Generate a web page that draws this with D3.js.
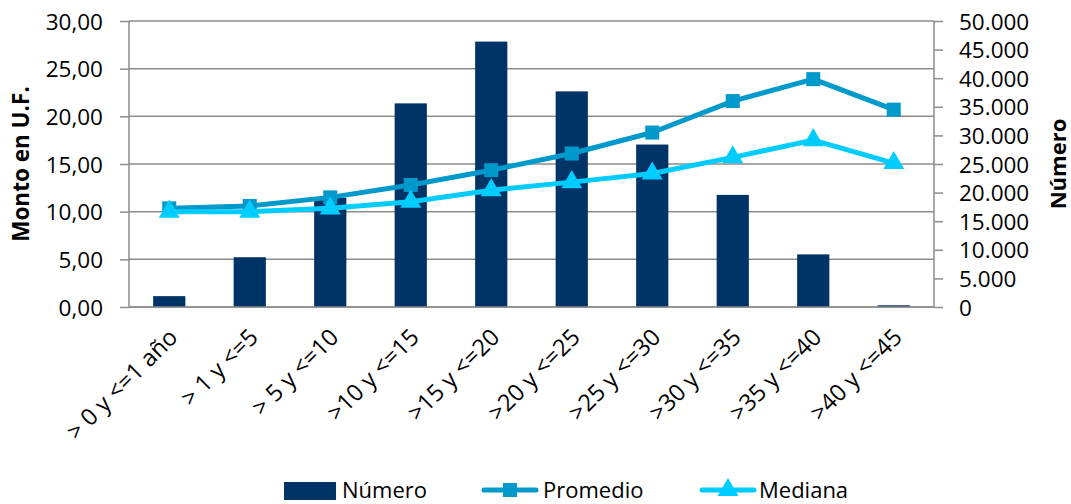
<!DOCTYPE html>
<html>
<head>
<meta charset="utf-8">
<script src="https://cdn.jsdelivr.net/npm/d3@7"></script>
<style>
  body { margin: 0; background: #fff; }
  text { font-family: "Open Sans", sans-serif; fill: #000; }
</style>
</head>
<body>
<div id="chart"></div>
<script>
// data
var categories = ["> 0 y <=1 año", "> 1 y <=5", "> 5 y <=10", ">10 y <=15", ">15 y <=20",
                  ">20 y <=25", ">25 y <=30", ">30 y <=35", ">35 y <=40", ">40 y <=45"];
var numero   = [1900, 8700, 19100, 35600, 46400, 37700, 28400, 19600, 9200, 300];
var promedio = [10.35, 10.6, 11.5, 12.8, 14.35, 16.1, 18.3, 21.6, 23.9, 20.7];
var mediana  = [10.0, 10.0, 10.35, 11.05, 12.25, 13.1, 14.0, 15.7, 17.5, 15.1];
var leftTicks  = [0, 5, 10, 15, 20, 25, 30];
var rightTicks = d3.range(0, 50001, 5000);

var W = 1071, H = 504;
var margin = { top: 21, right: 137, bottom: 197, left: 129 };
var width = W - margin.left - margin.right,
    height = H - margin.top - margin.bottom;

var colBar = "#003366", colProm = "#0099cc", colMed = "#00ccff", colGrid = "#8c8c8c";

var svg = d3.select("#chart").append("svg")
    .attr("width", W).attr("height", H);
var g = svg.append("g")
    .attr("transform", "translate(" + margin.left + "," + margin.top + ")");

var x = d3.scaleBand().domain(categories).range([0, width]).paddingInner(0.6).paddingOuter(0.3);
var xc = d3.scalePoint().domain(categories).range([0, width]).padding(0.5);
var yL = d3.scaleLinear().domain([0, 30]).range([height, 0]);
var yR = d3.scaleLinear().domain([0, 50000]).range([height, 0]);

var fmtL = function (d) { return d3.format(".2f")(d).replace(".", ","); };
var fmtR = function (d) { return d3.format(",")(d).replace(/,/g, "."); };

// gridlines
g.append("g").selectAll("line").data(leftTicks).enter().append("line")
    .attr("x1", 0).attr("x2", width)
    .attr("y1", function (d) { return yL(d); }).attr("y2", function (d) { return yL(d); })
    .style("stroke", colGrid).style("stroke-width", 1.5);

// left axis
var axL = g.append("g").call(d3.axisLeft(yL).tickValues(leftTicks).tickFormat(fmtL).tickSize(9).tickPadding(17));
axL.selectAll("line, path").style("stroke", colGrid).style("stroke-width", 1.5);
axL.select(".domain").attr("d", "M0," + height + "V0");
axL.selectAll("text").style("font-size", "22.5px").style("font-family", "Open Sans").attr("dy", "0.36em");

// right axis
var axR = g.append("g").attr("transform", "translate(" + width + ",0)")
    .call(d3.axisRight(yR).tickValues(rightTicks).tickFormat(fmtR).tickSize(9).tickPadding(16));
axR.selectAll("line, path").style("stroke", colGrid).style("stroke-width", 1.5);
axR.select(".domain").attr("d", "M0," + height + "V0");
axR.selectAll("text").style("font-size", "22.5px").style("font-family", "Open Sans").attr("dy", "0.36em");

// bars
g.append("g").selectAll("rect").data(numero).enter().append("rect")
    .attr("x", function (d, i) { return x(categories[i]); })
    .attr("width", x.bandwidth())
    .attr("y", function (d) { return yR(d); })
    .attr("height", function (d) { return height - yR(d); })
    .style("fill", colBar);

// bottom axis line
g.append("line").attr("x1", 0).attr("x2", width).attr("y1", height).attr("y2", height)
    .style("stroke", colGrid).style("stroke-width", 1.5);

// lines
var lineL = d3.line().x(function (d, i) { return xc(categories[i]); }).y(function (d) { return yL(d); });
g.append("path").datum(promedio).attr("d", lineL)
    .style("fill", "none").style("stroke", colProm).style("stroke-width", 5).style("stroke-linejoin", "round");
g.append("g").selectAll("rect").data(promedio).enter().append("rect")
    .attr("x", function (d, i) { return xc(categories[i]) - 7; })
    .attr("y", function (d) { return yL(d) - 7; })
    .attr("width", 14).attr("height", 14)
    .style("fill", colProm);

g.append("path").datum(mediana).attr("d", lineL)
    .style("fill", "none").style("stroke", colMed).style("stroke-width", 5).style("stroke-linejoin", "round");
var tri = d3.symbol().type(d3.symbolTriangle).size(190);
g.append("g").selectAll("path").data(mediana).enter().append("path")
    .attr("d", tri)
    .attr("transform", function (d, i) { return "translate(" + xc(categories[i]) + "," + yL(d) + ")"; })
    .style("fill", colMed);

// category labels
g.append("g").selectAll("text").data(categories).enter().append("text")
    .attr("transform", function (d) { return "translate(" + (xc(d) + 4) + "," + (height + 26) + ") rotate(-45)"; })
    .attr("text-anchor", "end")
    .attr("dy", "0.35em")
    .style("font-size", "23.5px")
    .text(function (d) { return d; });

// axis titles
svg.append("text")
    .attr("transform", "translate(29," + (margin.top + height / 2) + ") rotate(-90)")
    .attr("text-anchor", "middle")
    .style("font-size", "22.5px").style("font-weight", "bold")
    .text("Monto en U.F.");
svg.append("text")
    .attr("transform", "translate(1066," + (margin.top + height / 2) + ") rotate(-90)")
    .attr("text-anchor", "middle")
    .style("font-size", "22px").style("font-weight", "bold")
    .text("Número");

// legend
var lg = svg.append("g").attr("transform", "translate(0,490)");
lg.append("rect").attr("x", 284).attr("y", -8).attr("width", 52).attr("height", 18).style("fill", colBar);
lg.append("text").attr("x", 342).attr("dy", "0.36em").style("font-size", "22px").text("Número");

lg.append("line").attr("x1", 484).attr("x2", 536).style("stroke", colProm).style("stroke-width", 5).style("stroke-linecap", "round");
lg.append("rect").attr("x", 503).attr("y", -7).attr("width", 14).attr("height", 14).style("fill", colProm);
lg.append("text").attr("x", 543).attr("dy", "0.36em").style("font-size", "22px").text("Promedio");

lg.append("line").attr("x1", 702).attr("x2", 754).style("stroke", colMed).style("stroke-width", 5).style("stroke-linecap", "round");
lg.append("path").attr("d", tri).attr("transform", "translate(728,0)").style("fill", colMed);
lg.append("text").attr("x", 759).attr("dy", "0.36em").style("font-size", "22px").text("Mediana");
</script>
</body>
</html>
